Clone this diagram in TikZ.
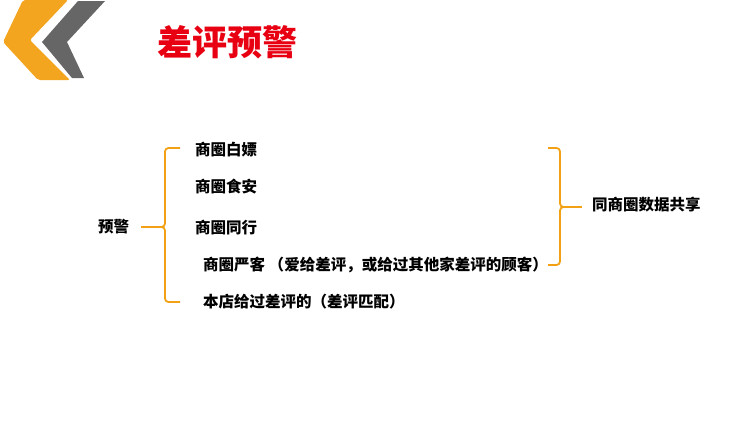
\documentclass[tikz,border=0pt]{standalone}
\usepackage{fontspec}
\newfontfamily\cjk{Noto Sans CJK SC}
\definecolor{logoorange}{RGB}{244,165,32}
\definecolor{logogray}{RGB}{102,102,102}
\definecolor{bracecol}{RGB}{242,160,20}
\definecolor{titlered}{RGB}{232,0,18}
\tikzset{
  item/.style={anchor=west, inner sep=0pt, font=\cjk\bfseries\fontsize{15.5}{17}\selectfont, text=black},
  brace/.style={draw=bracecol, line width=1.8pt, rounded corners=3.5pt},
}
\begin{document}
\begin{tikzpicture}[x=1pt,y=-1pt]
\useasboundingbox (0,0) rectangle (750,421);
% logo
\fill[logoorange, rounded corners=2pt] (23,0) -- (68,0) -- (30,40) -- (70,80) -- (38,80) -- (3,42) -- cycle;
\fill[logogray] (78,1) -- (105,1) -- (67,42) -- (84,78) -- (72,78) -- (42,42) -- cycle;
% title
\node[text=titlered, font=\cjk\bfseries\fontsize{35}{38}\selectfont, inner sep=0pt] (title) at (227,42) {差评预警};
% items
\node[item] (yj) at (98,227) {预警};
\node[item] (i1) at (195,150) {商圈白嫖};
\node[item] (i2) at (195,187) {商圈食安};
\node[item] (i3) at (195,228) {商圈同行};
\node[item] (i4) at (203,265) {商圈严客 （爱给差评，或给过其他家差评的顾客）};
\node[item] (i5) at (203,302) {本店给过差评的（差评匹配）};
\node[item] (share) at (592,205) {同商圈数据共享};
% left brace
\coordinate (lt) at (180,148);
\coordinate (lb) at (180,302);
\coordinate (lm) at (162,227);
\draw[brace] (lt) -- (165,148) -- (165,227) -- (lm);
\draw[brace] (lb) -- (165,302) -- (165,227) -- (lm);
\draw[draw=bracecol, line width=1.8pt] (yj.east) ++(12,0) -- (lm);
% right brace
\coordinate (rt) at (548,148);
\coordinate (rb) at (548,265);
\coordinate (rm) at (563,207);
\draw[brace] (rt) -- (560,148) -- (560,207) -- (rm);
\draw[brace] (rb) -- (560,265) -- (560,207) -- (rm);
\draw[draw=bracecol, line width=1.8pt] (rm) -- (582,207);
\end{tikzpicture}
\end{document}
